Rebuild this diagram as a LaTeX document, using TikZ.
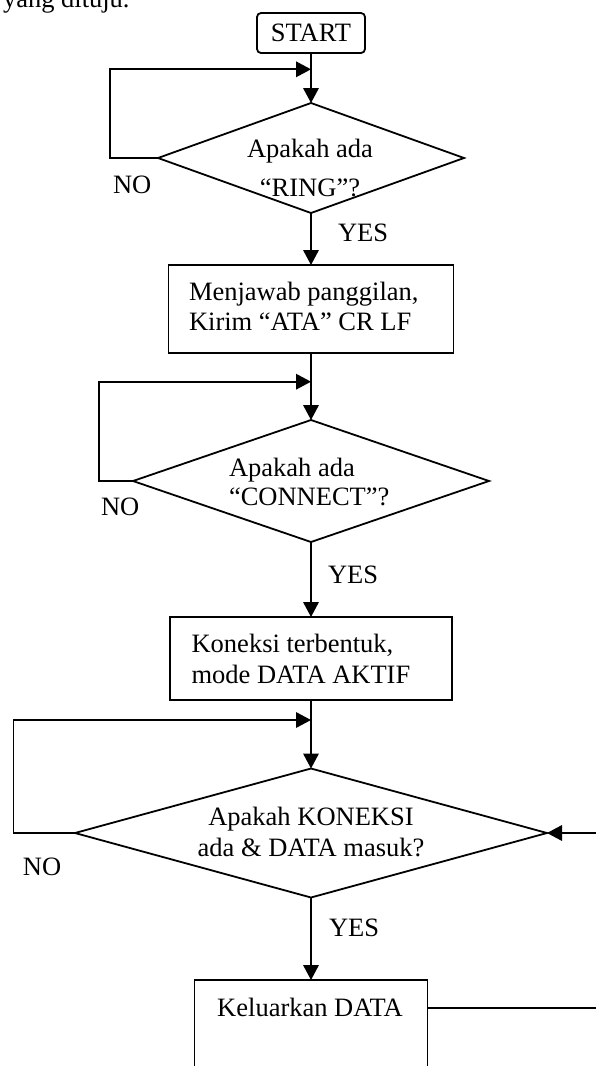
\documentclass[tikz,border=0pt]{standalone}
\usepackage{fontspec}
\setmainfont{Liberation Serif}
\usetikzlibrary{shapes.geometric,arrows.meta}
\begin{document}
\begin{tikzpicture}[x=1pt,y=-1pt,
  line width=1.8pt,
  every node/.style={font=\fontsize{26.5pt}{30pt}\selectfont, inner sep=0pt, outer sep=0pt},
  flow/.style={-{Triangle[length=15pt,width=15.5pt]}},
  procbox/.style={draw, rectangle},
  decision/.style={draw, diamond},
  startbox/.style={draw, rectangle, rounded corners=4pt},
  lbl/.style={anchor=base west},
  txt/.style={anchor=base west, align=left}
]
\useasboundingbox (0,0) rectangle (596,1066);
\clip (0,0) rectangle (596,1066);

% preceding paragraph line
\node[lbl] (intro) at (3,7) {yang dituju.};

% start and first decision
\node[startbox, minimum width=108pt, minimum height=40pt] (start) at (311,33) {START};
\node[decision, minimum width=306pt, minimum height=110pt] (d1) at (311,158) {};
\node[anchor=base, align=center, font=\fontsize{26.5pt}{39pt}\selectfont] (d1t) at (310,196) {Apakah ada\\“RING”?};
\node[lbl] (no1) at (113,193) {NO};
\node[lbl] (yes1) at (338,241) {YES};

% answer the call
\node[procbox, minimum width=285pt, minimum height=88pt] (b2) at (311,309) {};
\node[txt] (b2t) at (189,330.7) {Menjawab panggilan,\\Kirim “ATA” CR LF};

% second decision
\node[decision, minimum width=356pt, minimum height=122pt] (d2) at (311,481) {};
\node[txt, font=\fontsize{26.5pt}{28.5pt}\selectfont] (d2t) at (229,505) {Apakah ada\\“CONNECT”?};
\node[lbl] (no2) at (101,515) {NO};
\node[lbl] (yes2) at (328,583) {YES};

% connection established
\node[procbox, minimum width=282pt, minimum height=83pt] (b3) at (311,658.5) {};
\node[txt, font=\fontsize{26.5pt}{30.6pt}\selectfont] (b3t) at (191.6,683.3) {Koneksi terbentuk,\\mode DATA AKTIF};

% third decision
\node[decision, minimum width=472pt, minimum height=129pt] (d3) at (311,833) {};
\node[anchor=base, align=center, font=\fontsize{26.5pt}{31.7pt}\selectfont] (d3t) at (311,856.7) {Apakah KONEKSI\\ada \& DATA masuk?};
\node[lbl] (no3) at (23,875) {NO};
\node[lbl] (yes3) at (329,936) {YES};

% output data
\node[procbox, minimum width=233pt, minimum height=120pt, anchor=north] (b4) at (311,980) {};
\node[anchor=base] (b4t) at (310,1016) {Keluarkan DATA};

% junction and corner points
\coordinate (j1) at (311,69.3);
\coordinate (j2) at (311,381.7);
\coordinate (j3) at (311,720);
\coordinate (k1) at (110,158);
\coordinate (k2) at (99,481);
\coordinate (k3) at (13.4,833);
\coordinate (r1) at (606,1008);
\coordinate (r2) at (606,833);

% main flow
\draw[flow] (start) -- (d1);
\draw[flow] (d1) -- (b2);
\draw[flow] (b2) -- (d2);
\draw[flow] (d2) -- (b3);
\draw[flow] (b3) -- (d3);
\draw[flow] (d3) -- (b4);

% NO loops
\draw[flow] (d1.west) -- (k1) |- (j1);
\draw[flow] (d2.west) -- (k2) |- (j2);
\draw[flow] (d3.west) -- (k3) |- (j3);

% return from output
\draw[flow] (b4.north east |- r1) -- (r1) -- (r2) -- (d3.east);
\end{tikzpicture}
\end{document}
